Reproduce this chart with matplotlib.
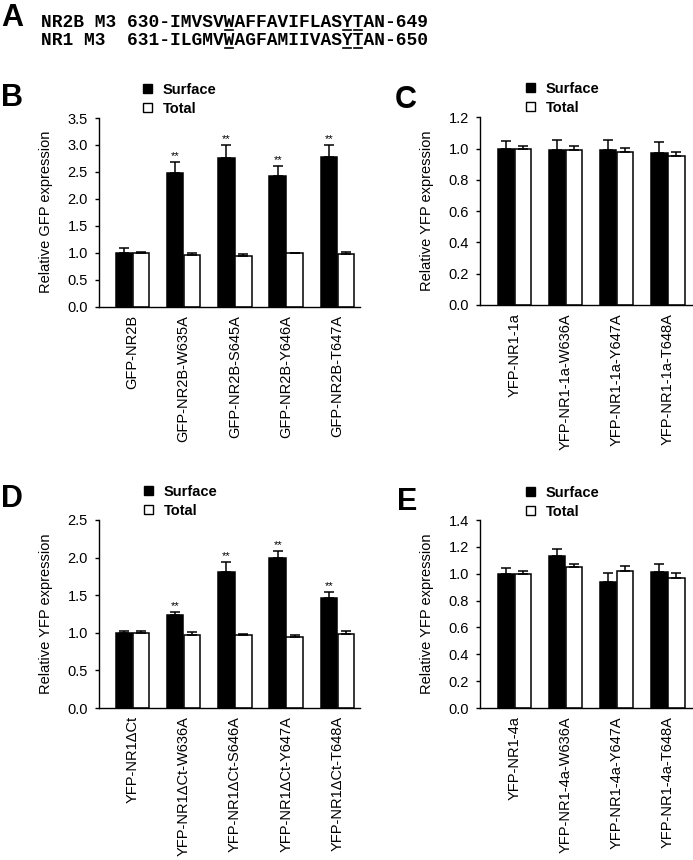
import numpy as np
import matplotlib
matplotlib.use("Agg")
import matplotlib.pyplot as plt
from matplotlib.patches import Patch
from matplotlib.lines import Line2D

plt.rcParams['font.family'] = ['Liberation Sans', 'DejaVu Sans']

# Sequence lines for panel A
seq_lines = ["NR2B M3 630-IMVSVWAFFAVIFLASYTAN-649",
             "NR1 M3  631-ILGMVWAGFAMIIVASYTAN-650"]
seq_marks = [[17, 28, 29], [17, 28, 29]]  # underlined residues (char index)

# Panel B
B_labels = ["GFP-NR2B", "GFP-NR2B-W635A", "GFP-NR2B-S645A", "GFP-NR2B-Y646A", "GFP-NR2B-T647A"]
B_surface = [1.00, 2.47, 2.75, 2.43, 2.77]
B_surface_err = [0.08, 0.21, 0.24, 0.18, 0.23]
B_total = [1.00, 0.95, 0.94, 0.99, 0.975]
B_total_err = [0.02, 0.04, 0.03, 0.01, 0.03]
B_sig = ["", "**", "**", "**", "**"]

# Panel C
C_labels = ["YFP-NR1-1a", "YFP-NR1-1a-W636A", "YFP-NR1-1a-Y647A", "YFP-NR1-1a-T648A"]
C_surface = [1.00, 0.99, 0.99, 0.97]
C_surface_err = [0.05, 0.065, 0.065, 0.07]
C_total = [1.00, 0.99, 0.98, 0.955]
C_total_err = [0.015, 0.025, 0.025, 0.02]

# Panel D
D_labels = ["YFP-NR1ΔCt", "YFP-NR1ΔCt-W636A", "YFP-NR1ΔCt-S646A", "YFP-NR1ΔCt-Y647A", "YFP-NR1ΔCt-T648A"]
D_surface = [1.00, 1.24, 1.81, 2.00, 1.46]
D_surface_err = [0.03, 0.03, 0.13, 0.09, 0.08]
D_total = [1.00, 0.97, 0.97, 0.95, 0.99]
D_total_err = [0.02, 0.045, 0.02, 0.02, 0.03]
D_sig = ["", "**", "**", "**", "**"]

# Panel E
E_labels = ["YFP-NR1-4a", "YFP-NR1-4a-W636A", "YFP-NR1-4a-Y647A", "YFP-NR1-4a-T648A"]
E_surface = [1.00, 1.13, 0.94, 1.01]
E_surface_err = [0.04, 0.055, 0.065, 0.065]
E_total = [1.00, 1.05, 1.02, 0.97]
E_total_err = [0.02, 0.025, 0.04, 0.035]

W, H = 693, 860
fig = plt.figure(figsize=(W / 100, H / 100), dpi=100)


def px_axes(left, right, top, bottom):
    return fig.add_axes([left / W, 1 - bottom / H, (right - left) / W, (bottom - top) / H])


def bar_panel(ax, labels, surf, surf_err, tot, tot_err, ymax, ystep, ylabel, xlim, sig=None):
    x = np.arange(len(labels))
    bw = 0.32
    ekw = dict(elinewidth=1.1, capthick=1.1, ecolor='black')
    ax.bar(x - 0.165, surf, bw, color='black', edgecolor='black', linewidth=1.1,
           yerr=[np.zeros(len(x)), surf_err], capsize=3.4, error_kw=ekw, zorder=2)
    ax.bar(x + 0.165, tot, bw, color='white', edgecolor='black', linewidth=1.1,
           yerr=[np.zeros(len(x)), tot_err], capsize=3.4, error_kw=ekw, zorder=2)
    if sig is not None:
        for xi, s, v, e in zip(x, sig, surf, surf_err):
            if s:
                ax.text(xi - 0.165, v + e + ymax * 0.005, s, ha='center', va='bottom', fontsize=8)
    ax.set_xlim(*xlim)
    ax.set_ylim(0, ymax)
    ax.set_yticks(np.arange(0, ymax + ystep / 2, ystep))
    ax.yaxis.set_major_formatter(matplotlib.ticker.FormatStrFormatter('%.1f'))
    ax.set_xticks(x)
    ax.set_xticklabels(labels, rotation=90, fontsize=10.5)
    ax.tick_params(axis='x', length=0, pad=6)
    ax.tick_params(axis='y', length=3, width=1, labelsize=10.5, pad=5, direction='out')
    ax.set_ylabel(ylabel, fontsize=10.5, labelpad=10)
    for sp in ['top', 'right']:
        ax.spines[sp].set_visible(False)
    for sp in ['left', 'bottom']:
        ax.spines[sp].set_linewidth(1.0)


def add_legend(ax, x0, y0):
    handles = [Patch(facecolor='black', edgecolor='black', linewidth=1.0, label='Surface'),
               Patch(facecolor='white', edgecolor='black', linewidth=1.0, label='Total')]
    ax.legend(handles=handles, loc='upper left', bbox_to_anchor=(x0 / W, 1 - y0 / H),
              bbox_transform=fig.transFigure, frameon=False, borderpad=0, borderaxespad=0,
              handlelength=0.6, handleheight=0.6, handletextpad=0.75, labelspacing=0.32,
              prop={'weight': 'bold', 'size': 10.5})


axB = px_axes(99, 360, 118, 306.5)
bar_panel(axB, B_labels, B_surface, B_surface_err, B_total, B_total_err,
          3.5, 0.5, "Relative GFP expression", (-0.65, 4.44), B_sig)
add_legend(axB, 143, 83)

axC = px_axes(480, 692, 117.3, 305)
bar_panel(axC, C_labels, C_surface, C_surface_err, C_total, C_total_err,
          1.2, 0.2, "Relative YFP expression", (-0.67, 3.47))
add_legend(axC, 526, 82)

axD = px_axes(99, 360, 520, 708)
bar_panel(axD, D_labels, D_surface, D_surface_err, D_total, D_total_err,
          2.5, 0.5, "Relative YFP expression", (-0.65, 4.44), D_sig)
add_legend(axD, 144, 485)

axE = px_axes(480, 692, 520, 708)
bar_panel(axE, E_labels, E_surface, E_surface_err, E_total, E_total_err,
          1.4, 0.2, "Relative YFP expression", (-0.67, 3.47))
add_legend(axE, 526, 486)

# Panel letters
for letter, xp, yp in [("A", 1, 26), ("B", 1, 106), ("C", 395, 108), ("D", 1, 507), ("E", 397, 510)]:
    fig.text(xp / W, 1 - yp / H, letter, fontsize=22, fontweight='bold', va='baseline', ha='left')

# Panel A sequences
seq_texts = []
for line, base in zip(seq_lines, [26.7, 45]):
    t = fig.text(40.7 / W, 1 - base / H, line, family='Liberation Mono', fontweight='bold',
                 fontsize=12.9, va='baseline', ha='left')
    seq_texts.append((t, base))

# underline marked residues, using the measured width of the mono text
renderer = fig.canvas.get_renderer()
for (t, base), line, marks in zip(seq_texts, seq_lines, seq_marks):
    bb = t.get_window_extent(renderer)
    cw = bb.width / len(line)
    y_line = 1 - (base + 3) / H
    for i in marks:
        x0 = (bb.x0 + cw * (i + 0.15)) / W
        x1 = (bb.x0 + cw * (i + 0.85)) / W
        fig.add_artist(Line2D([x0, x1], [y_line, y_line], color='black', linewidth=1.2))

fig.savefig("out.png", dpi=100)
